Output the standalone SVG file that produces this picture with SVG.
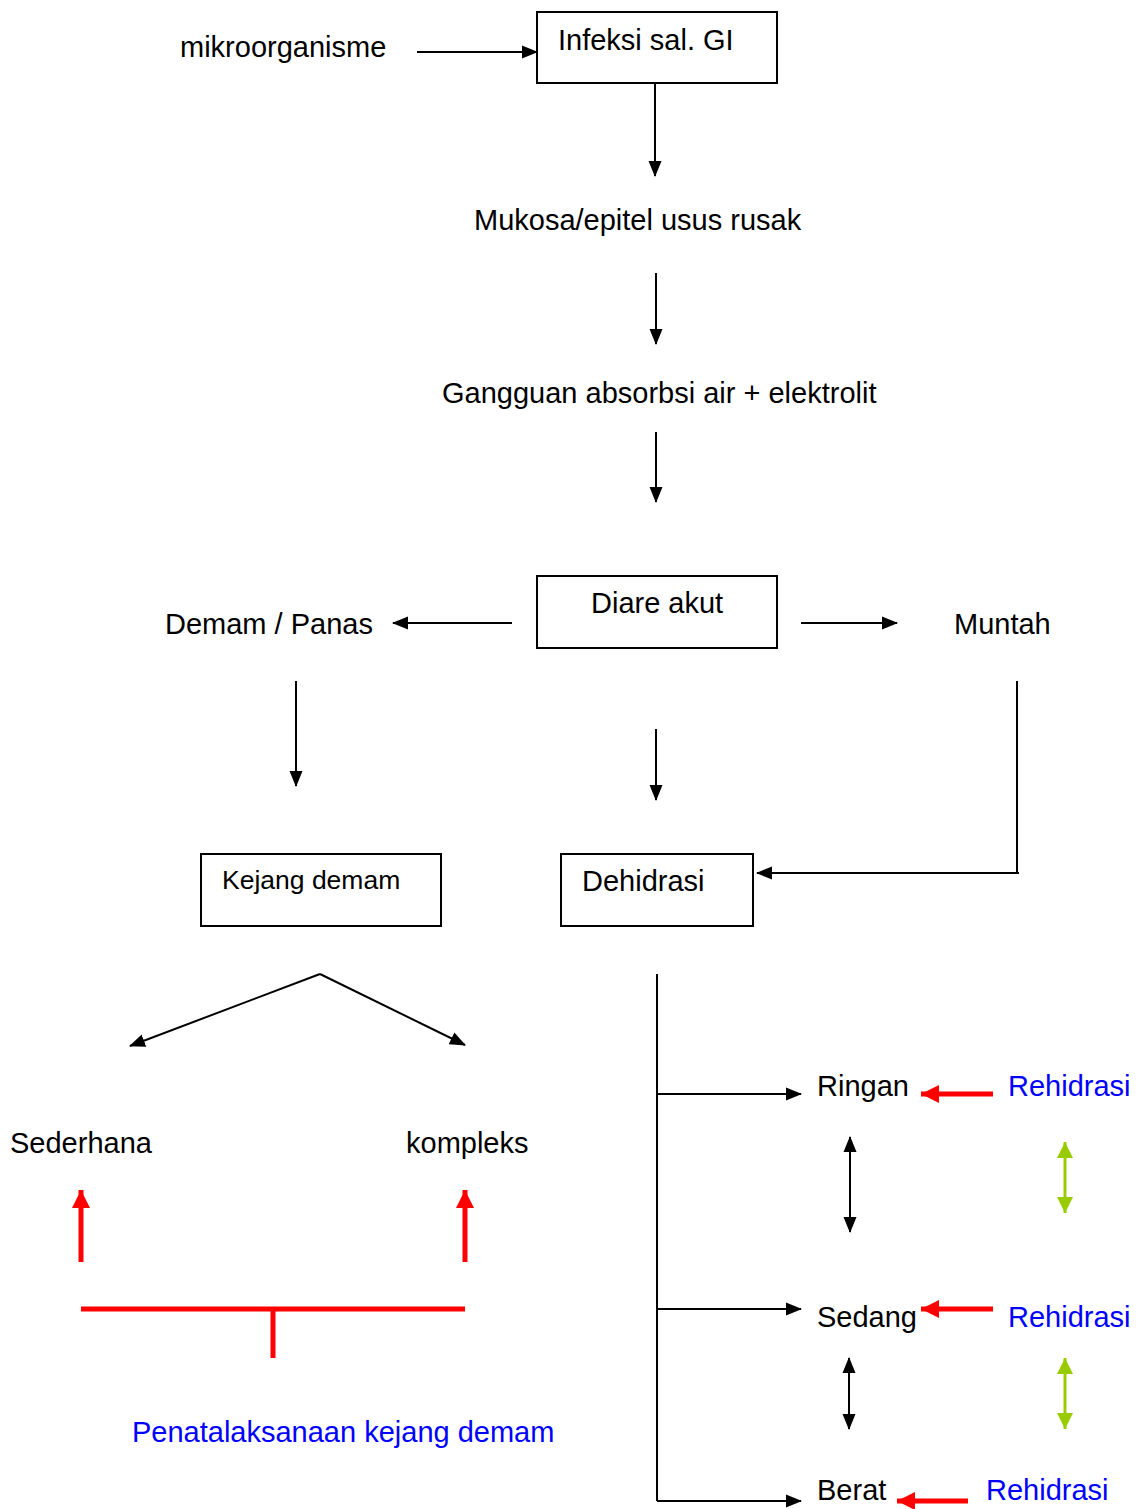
<svg xmlns="http://www.w3.org/2000/svg" width="1138" height="1509" viewBox="0 0 1138 1509">
<style>
text{font-family:"Liberation Sans",Arial,sans-serif;font-size:29px;fill:#000}
.b{fill:#0000ff}
.box{fill:#fff;stroke:#000;stroke-width:2}
.k{stroke:#000;stroke-width:2;fill:none}
.r{stroke:#ff0000;stroke-width:5;fill:none}
.g{stroke:#99cc00;stroke-width:3;fill:none}
</style>
<defs>
<marker id="ak" markerUnits="userSpaceOnUse" markerWidth="18" markerHeight="16" refX="15" refY="7" orient="auto-start-reverse"><path d="M0,0.5 L16,7 L0,13.5 Z" fill="#000"/></marker>
<marker id="ar" markerUnits="userSpaceOnUse" markerWidth="20" markerHeight="20" refX="18" refY="9" orient="auto-start-reverse"><path d="M0,0 L18,9 L0,18 Z" fill="#ff0000"/></marker>
<marker id="ag" markerUnits="userSpaceOnUse" markerWidth="18" markerHeight="18" refX="16" refY="8" orient="auto-start-reverse"><path d="M0,0 L16,8 L0,16 Z" fill="#99cc00"/></marker>
</defs>
<g id="connectors">
<line class="k" x1="417" y1="52" x2="537" y2="52" marker-end="url(#ak)"/>
<line class="k" x1="655" y1="83" x2="655" y2="176" marker-end="url(#ak)"/>
<line class="k" x1="656" y1="273" x2="656" y2="344" marker-end="url(#ak)"/>
<line class="k" x1="656" y1="432" x2="656" y2="502" marker-end="url(#ak)"/>
<line class="k" x1="512" y1="623" x2="393" y2="623" marker-end="url(#ak)"/>
<line class="k" x1="801" y1="623" x2="897" y2="623" marker-end="url(#ak)"/>
<line class="k" x1="296" y1="681" x2="296" y2="786" marker-end="url(#ak)"/>
<line class="k" x1="656" y1="729" x2="656" y2="800" marker-end="url(#ak)"/>
<line class="k" x1="1017" y1="681" x2="1017" y2="873"/>
<line class="k" x1="1019" y1="873" x2="757" y2="873" marker-end="url(#ak)"/>
<line class="k" x1="320" y1="974" x2="130" y2="1046" marker-end="url(#ak)"/>
<line class="k" x1="320" y1="974" x2="465" y2="1045" marker-end="url(#ak)"/>
<line class="r" x1="81" y1="1262" x2="81" y2="1190" marker-end="url(#ar)"/>
<line class="r" x1="465" y1="1262" x2="465" y2="1190" marker-end="url(#ar)"/>
<line class="r" x1="81" y1="1309" x2="465" y2="1309"/>
<line class="r" x1="273" y1="1309" x2="273" y2="1358"/>
<line class="k" x1="657" y1="974" x2="657" y2="1501"/>
<line class="k" x1="657" y1="1094" x2="801" y2="1094" marker-end="url(#ak)"/>
<line class="k" x1="657" y1="1309" x2="801" y2="1309" marker-end="url(#ak)"/>
<line class="k" x1="657" y1="1501" x2="801" y2="1501" marker-end="url(#ak)"/>
<line class="r" x1="993" y1="1094" x2="921" y2="1094" marker-end="url(#ar)"/>
<line class="r" x1="993" y1="1309" x2="921" y2="1309" marker-end="url(#ar)"/>
<line class="r" x1="968" y1="1501" x2="897" y2="1501" marker-end="url(#ar)"/>
<line class="k" stroke-width="3" x1="850" y1="1137" x2="850" y2="1232" marker-start="url(#ak)" marker-end="url(#ak)"/>
<line class="k" stroke-width="3" x1="849" y1="1358" x2="849" y2="1429" marker-start="url(#ak)" marker-end="url(#ak)"/>
<line class="g" x1="1065" y1="1142" x2="1065" y2="1213" marker-start="url(#ag)" marker-end="url(#ag)"/>
<line class="g" x1="1065" y1="1358" x2="1065" y2="1429" marker-start="url(#ag)" marker-end="url(#ag)"/>
</g>
<g id="n-mikro"><text x="180" y="57">mikroorganisme</text></g>
<g id="n-infeksi"><rect class="box" x="537" y="12" width="240" height="71"/><text x="558" y="50">Infeksi sal. GI</text></g>
<g id="n-mukosa"><text x="474" y="230">Mukosa/epitel usus rusak</text></g>
<g id="n-gangguan"><text x="442" y="403">Gangguan absorbsi air + elektrolit</text></g>
<g id="n-diare"><rect class="box" x="537" y="576" width="240" height="72"/><text x="591" y="613">Diare akut</text></g>
<g id="n-demam"><text x="165" y="634">Demam / Panas</text></g>
<g id="n-muntah"><text x="954" y="634">Muntah</text></g>
<g id="n-kejang"><rect class="box" x="201" y="854" width="240" height="72"/><text x="222" y="889" style="font-size:26.5px">Kejang demam</text></g>
<g id="n-dehidrasi"><rect class="box" x="561" y="854" width="192" height="72"/><text x="582" y="891">Dehidrasi</text></g>
<g id="n-sederhana"><text x="10" y="1153">Sederhana</text></g>
<g id="n-kompleks"><text x="406" y="1153">kompleks</text></g>
<g id="n-penatalaksanaan"><text class="b" x="132" y="1442">Penatalaksanaan kejang demam</text></g>
<g id="n-ringan"><text x="817" y="1096">Ringan</text></g>
<g id="n-sedang"><text x="817" y="1327">Sedang</text></g>
<g id="n-berat"><text x="817" y="1500">Berat</text></g>
<g id="n-rehid1"><text class="b" x="1008" y="1096">Rehidrasi</text></g>
<g id="n-rehid2"><text class="b" x="1008" y="1327">Rehidrasi</text></g>
<g id="n-rehid3"><text class="b" x="986" y="1500">Rehidrasi</text></g>
</svg>
